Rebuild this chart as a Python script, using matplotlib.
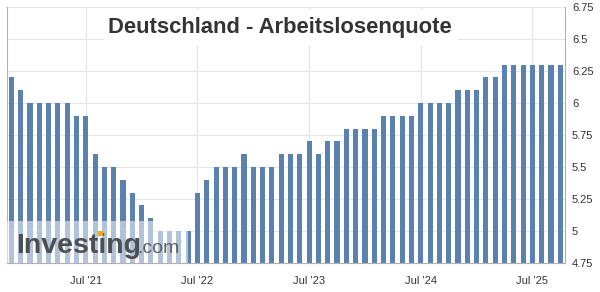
import matplotlib
matplotlib.use("Agg")
import matplotlib.pyplot as plt
import matplotlib.patches as mpatches
import pandas as pd
import numpy as np

# ---- data ----
start_month = "2020-11"
values = [6.2, 6.1, 6.0, 6.0, 6.0, 6.0, 6.0, 5.9, 5.9, 5.6,
          5.5, 5.5, 5.4, 5.3, 5.2, 5.1, 5.0, 5.0, 5.0, 5.0,
          5.3, 5.4, 5.5, 5.5, 5.5, 5.6, 5.5, 5.5, 5.5, 5.6,
          5.6, 5.6, 5.7, 5.6, 5.7, 5.7, 5.8, 5.8, 5.8, 5.8,
          5.9, 5.9, 5.9, 5.9, 6.0, 6.0, 6.0, 6.0, 6.1, 6.1,
          6.1, 6.2, 6.2, 6.3, 6.3, 6.3, 6.3, 6.3, 6.3, 6.3]
y_ticks = [4.75, 5.0, 5.25, 5.5, 5.75, 6.0, 6.25, 6.5, 6.75]
y_tick_labels = ["4.75", "5", "5.25", "5.5", "5.75", "6", "6.25", "6.5", "6.75"]
title = "Deutschland - Arbeitslosenquote"

dates = pd.date_range(start_month, periods=len(values), freq="MS")
x = np.arange(len(values))
jul_idx = [i for i, d in enumerate(dates) if d.month == 7]
jul_labels = [f"Jul '{dates[i].year % 100:02d}" for i in jul_idx]

plt.rcParams['font.family'] = ['Liberation Sans', 'DejaVu Sans']

fig = plt.figure(figsize=(6.0, 2.92), dpi=100)
ax = fig.add_axes([6.7/600, 29/292, (565-6.7)/600, (263-7)/292])

bar_color = "#5b82ae"
ax.bar(x, values, width=0.55, color=bar_color, zorder=2)

ax.set_xlim(-0.5, len(values) - 0.5)
ax.set_ylim(4.75, 6.75)
ax.set_yticks(y_ticks)
ax.set_yticklabels(y_tick_labels)
ax.yaxis.tick_right()
ax.set_xticks(jul_idx)
ax.set_xticklabels(jul_labels)
ax.tick_params(axis='both', length=0, labelsize=8, labelcolor="#333333")
ax.tick_params(axis='y', pad=5)
ax.tick_params(axis='x', pad=9)

ax.grid(True, color="#e6e6e6", linewidth=0.8, zorder=0)
ax.set_axisbelow(True)
ax.spines["top"].set_visible(False)
for s in ["left", "right", "bottom"]:
    ax.spines[s].set_color("#b0b0b0")
    ax.spines[s].set_linewidth(0.8)

# title box (white background hiding grid)
fig.patches.append(mpatches.Rectangle((104/600, 1 - 45/292), (458-104)/600, 35/292,
                                      transform=fig.transFigure, facecolor="white",
                                      edgecolor="none", zorder=3))
fig.text(108/600, 1 - 27/292, title, fontsize=15.8, fontweight="bold",
         color="#333333", ha="left", va="center", zorder=4)

# watermark overlay
ax.add_patch(mpatches.Rectangle((-0.5, 4.75), 19.5, 0.33, facecolor="white",
                                alpha=0.52, edgecolor="none", zorder=3))
fig.text(16/600, 1 - 253/292, "Investing", fontsize=20.5, fontweight="bold",
         color="#4d4f53", ha="left", va="baseline", zorder=5)
fig.text(137/600, 1 - 253/292, ".com", fontsize=14, color="#5f6166",
         ha="left", va="baseline", zorder=5)
fig.patches.append(mpatches.Rectangle((97.5/600, 1 - 236/292), 5/600, 5/292,
                                      transform=fig.transFigure, facecolor="#f5a623",
                                      edgecolor="none", zorder=6))

fig.savefig("out.png", dpi=100)
